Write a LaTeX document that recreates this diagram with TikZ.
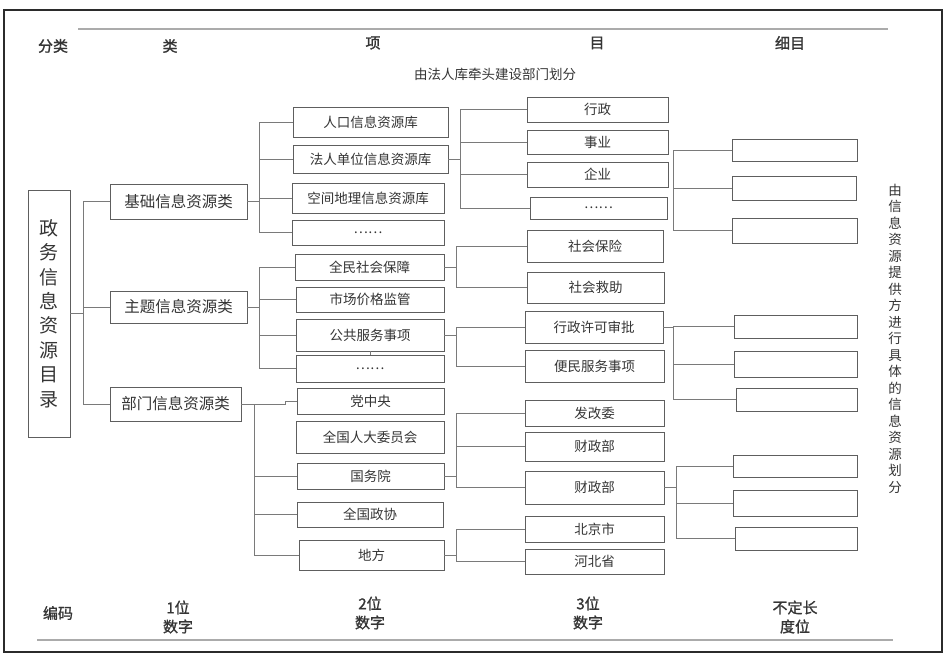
\documentclass[tikz,border=0pt]{standalone}
\usepackage{fontspec}
\usepackage{xcolor}
\usetikzlibrary{positioning, calc}
\newfontfamily\cjk{Noto Sans CJK SC}
\newfontfamily\cjkhead[FakeBold=1.2]{Noto Sans CJK SC}
\definecolor{frameline}{HTML}{2B2B2B}
\definecolor{boxline}{HTML}{5E5E5E}
\definecolor{linkgray}{HTML}{7A7A7A}
\definecolor{rulegray}{HTML}{ABABAB}
\definecolor{textmain}{HTML}{353535}

\begin{document}
\begin{tikzpicture}[
    x=1pt, y=-1pt,
    sz/.style 2 args={minimum width=#1pt, minimum height=#2pt},
    root/.style={draw=boxline, line width=0.9pt, inner sep=0pt, text=textmain,
                 align=center, font=\cjk\fontsize{19}{24.4}\selectfont},
    cat/.style={draw=boxline, line width=0.9pt, inner sep=0pt, text=textmain,
                font=\cjk\fontsize{15.5}{17}\selectfont},
    item/.style={draw=boxline, line width=0.9pt, inner sep=0pt, text=textmain,
                 font=\cjk\fontsize{13.5}{15}\selectfont},
    leaf/.style={draw=boxline, line width=0.9pt, inner sep=0pt, sz={124}{24}},
    link/.style={draw=linkgray, line width=0.9pt},
    head/.style={text=textmain, align=center, font=\cjkhead\fontsize{15}{19}\selectfont},
    note/.style={text=textmain, align=center, font=\cjk\fontsize{13.5}{16.5}\selectfont}
  ]
    \useasboundingbox (0,0) rectangle (949,655);
    \fill[white] (0,0) rectangle (949,655);
    \draw[frameline, line width=1.6pt] (4,10) rectangle (942,652);
    \draw[rulegray, line width=1.2pt] (78,29) -- (888,29);
    \draw[rulegray, line width=1.2pt] (37,640) -- (893,640);

    \node[head] (h0) at (53,46) {分类};
    \node[head] (h1) at (170,46) {类};
    \node[head] (h2) at (373,43) {项};
    \node[head] (h3) at (597,43) {目};
    \node[head] (h4) at (790,43) {细目};
    \node[note] (lead) at (495,74) {由法人库牵头建设部门划分};

    \node[root, sz={42}{247}] (root) at (49,313.5) {政\\务\\信\\息\\资\\源\\目\\录};

    \node[cat, sz={137}{35}] (n1) at (178.5,201.5) {基础信息资源类};
    \node[cat, sz={137}{32}] (n2) at (178.5,307) {主题信息资源类};
    \node[cat, sz={131}{34}] (n3) at (175.5,404) {部门信息资源类};

    \node[item, sz={155}{30}] (a1) at (370.5,122) {人口信息资源库};
    \node[item, sz={155}{28}] (a2) at (370.5,159) {法人单位信息资源库};
    \node[item, sz={152}{30}] (a3) at (368,198) {空间地理信息资源库};
    \node[item, sz={152}{25}] (a4) at (368,232.5) {……};

    \node[item, sz={149}{26}] (b1) at (369.5,267) {全民社会保障};
    \node[item, sz={148}{25}] (b2) at (370,299.5) {市场价格监管};
    \node[item, sz={148}{32}] (b3) at (370,335) {公共服务事项};
    \node[item, sz={148}{27}] (b4) at (370,368.5) {……};

    \node[item, sz={147}{26}] (c1) at (370.5,401) {党中央};
    \node[item, sz={148}{32}] (c2) at (370,437) {全国人大委员会};
    \node[item, sz={147}{26}] (c3) at (370.5,476) {国务院};
    \node[item, sz={146}{25}] (c4) at (370,514.5) {全国政协};
    \node[item, sz={145}{30}] (c5) at (371.5,555) {地方};

    \node[item, sz={141}{25}] (d1) at (597.5,109.5) {行政};
    \node[item, sz={141}{24}] (d2) at (597.5,142) {事业};
    \node[item, sz={141}{25}] (d3) at (597.5,174.5) {企业};
    \node[item, sz={137}{22}] (d4) at (598.5,208) {……};

    \node[item, sz={136}{32}] (e1) at (595,246) {社会保险};
    \node[item, sz={137}{31}] (e2) at (595.5,287.5) {社会救助};

    \node[item, sz={138}{32}] (f1) at (594,327) {行政许可审批};
    \node[item, sz={139}{32}] (f2) at (594.5,366) {便民服务事项};

    \node[item, sz={139}{26}] (g1) at (594.5,413) {发改委};
    \node[item, sz={139}{29}] (g2) at (594.5,446.5) {财政部};
    \node[item, sz={139}{33}] (g3) at (594.5,487.5) {财政部};

    \node[item, sz={139}{26}] (p1) at (594.5,529) {北京市};
    \node[item, sz={139}{25}] (p2) at (594.5,561.5) {河北省};

    \node[leaf, sz={125}{22}] (i1) at (794.5,150) {};
    \node[leaf] (i2) at (794.5,188) {};
    \node[leaf, sz={125}{25}] (i3) at (794.5,230.5) {};

    \node[leaf, sz={123}{23}] (j1) at (795.5,326.5) {};
    \node[leaf, sz={123}{26}] (j2) at (795.5,364) {};
    \node[leaf, sz={121}{23}] (j3) at (796.5,399.5) {};

    \node[leaf, sz={124}{22}] (k1) at (795,466) {};
    \node[leaf, sz={124}{26}] (k2) at (795,503) {};
    \node[leaf, sz={122}{23}] (k3) at (796,538.5) {};

    \node[note] (side) at (895,338.5) {由\\信\\息\\资\\源\\提\\供\\方\\进\\行\\具\\体\\的\\信\\息\\资\\源\\划\\分};

    \node[head] (code) at (58,613) {编码};
    \node[head] (w1) at (178,617) {1位\\数字};
    \node[head] (w2) at (370,613) {2位\\数字};
    \node[head] (w3) at (588,613) {3位\\数字};
    \node[head] (w4) at (795,617) {不定长\\度位};

    \coordinate (r0) at ($(root.east)+(13,0)$);
    \draw[link] (root.east) -- (r0);
    \foreach \n in {n1,n2,n3} \draw[link] (r0) |- (\n.west);

    \coordinate (ba) at ($(n1.east)+(12,0)$);
    \draw[link] (n1.east) -- (ba);
    \foreach \n in {a1,a2,a3,a4} \draw[link] (ba) |- (\n.west);

    \coordinate (bb) at ($(n2.east)+(12,0)$);
    \draw[link] (n2.east) -- (bb);
    \foreach \n in {b1,b2,b3,b4} \draw[link] (bb) |- (\n.west);
    \draw[link] (b3.south) -- (b4.north);

    \coordinate (bc) at ($(n3.east)+(13,0)$);
    \coordinate (sc) at ($(n3.east)+(44,0)$);
    \draw[link] (n3.east) -- (sc) |- (c1.west);
    \foreach \n in {c3,c4,c5} \draw[link] (bc) |- (\n.west);

    \coordinate (bd) at ($(a2.east)+(12,0)$);
    \draw[link] (a2.east) -- (bd);
    \foreach \n in {d1,d2,d3,d4} \draw[link] (bd) |- (\n.west);

    \coordinate (be) at ($(b1.east)+(12,0)$);
    \draw[link] (b1.east) -- (be);
    \foreach \n in {e1,e2} \draw[link] (be) |- (\n.west);

    \coordinate (bf) at ($(b3.east)+(12,0)$);
    \draw[link] (b3.east) -- (bf);
    \foreach \n in {f1,f2} \draw[link] (bf) |- (\n.west);

    \coordinate (bg) at ($(c3.east)+(12,0)$);
    \draw[link] (c3.east) -- (bg);
    \foreach \n in {g1,g2,g3} \draw[link] (bg) |- (\n.west);

    \coordinate (bp) at ($(c5.east)+(12,0)$);
    \draw[link] (c5.east) -- (bp);
    \foreach \n in {p1,p2} \draw[link] (bp) |- (\n.west);

    \coordinate (bi) at (673,188);
    \foreach \n in {i1,i2,i3} \draw[link] (bi) |- (\n.west);

    \coordinate (bj) at ($(f1.east)+(10,0)$);
    \draw[link] (f1.east) -- (bj);
    \foreach \n in {j1,j2,j3} \draw[link] (bj) |- (\n.west);

    \coordinate (bk) at ($(g3.east)+(12,0)$);
    \draw[link] (g3.east) -- (bk);
    \foreach \n in {k1,k2,k3} \draw[link] (bk) |- (\n.west);
  \end{tikzpicture}
\end{document}
